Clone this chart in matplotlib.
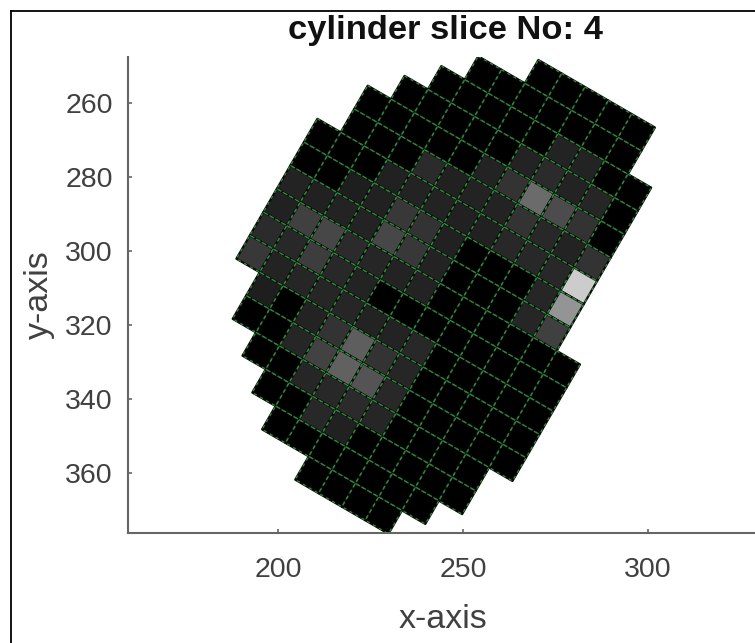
import numpy as np
import matplotlib
matplotlib.use('Agg')
import matplotlib.pyplot as plt
from matplotlib.collections import PolyCollection
from matplotlib.lines import Line2D

plt.rcParams['font.family'] = ['Liberation Sans', 'DejaVu Sans']

# first column index of each row of the slice, and the grey level of its cells
row_start = [0, -2, -3, -4, -5, -5, -6, -6, -6, -6, -6, -6, -5, -5, -4, -3, -2, 0]
row_grey = [
    [0, 0, 0, 0, 0],
    [0, 0, 0, 0, 0, 0, 0],
    [0, 0, 0, 0, 0, .14, .14, 0, 0],
    [0, 0, 0, 0, 0, .14, .17, .14, .15, 0],
    [0, 0, 0, 0, 0, .14, .20, .42, .30, .20, 0],
    [0, 0, 0, .17, .13, .14, .14, .20, .16, .14, .20],
    [0, 0, 0, .13, .14, .14, .13, .13, .16, .16, .16, .80],
    [0, 0, .12, .13, .22, .20, .13, 0, 0, 0, .15, .58],
    [.14, .13, .14, .14, .28, .22, .14, 0, 0, 0, .15, .25],
    [.13, .25, .28, .17, .15, .14, .14, 0, 0, 0, 0, 0, 0],
    [.17, .16, .24, .16, .14, 0, 0, 0, 0, 0, 0, 0, 0],
    [.22, .14, .15, .15, .15, .14, .14, .16, 0, 0, 0, 0, 0],
    [.12, 0, .14, .20, .37, .20, .15, 0, 0, 0, 0, 0],
    [0, 0, .15, .26, .38, .33, .16, 0, 0, 0, 0, 0],
    [0, 0, .15, .16, .17, .15, 0, 0, 0, 0],
    [0, 0, .16, .13, 0, 0, 0, 0, 0],
    [0, 0, 0, 0, 0, 0, 0],
    [0, 0, 0, 0],
]
x_ticks = [200, 250, 300]
y_ticks = [260, 280, 300, 320, 340, 360]

# grid corner and the two cell edge vectors, in axis units
origin = np.array([270.35, 248.4])
step_u = np.array([6.30, 3.65])
step_v = np.array([-3.65, 6.30])

polys = []
greys = []
for j, (start, vals) in enumerate(zip(row_start, row_grey)):
    for k, g in enumerate(vals):
        i = start + k
        p = origin + i * step_u + j * step_v
        polys.append([p, p + step_u, p + step_u + step_v, p + step_v])
        greys.append(g)

fig = plt.figure(figsize=(7.55, 6.43), dpi=100)
ax = fig.add_axes([128 / 755, 110 / 643, 627 / 755, 476 / 643])

# dark seam under each cell, then the sparse green dashes on top
cells = PolyCollection(polys, array=np.array(greys), cmap='gray', edgecolors='#0c0c0c',
                       linewidths=1.6, antialiaseds=True)
cells.set_clim(0, 1)
ax.add_collection(cells)
edges = PolyCollection(polys, facecolors='none', edgecolors='#2e8a3a',
                       linewidths=0.9, linestyles=(0, (2.5, 3)))
ax.add_collection(edges)

ax.set_xlim(159.46, 328.9)
ax.set_ylim(376.2, 247.6)
ax.set_xticks(x_ticks)
ax.set_yticks(y_ticks)
ax.tick_params(direction='in', length=3, width=1.2, color='#666666', labelcolor='#404040',
               labelsize=20.5)
ax.tick_params(axis='x', pad=17)
ax.tick_params(axis='y', pad=11)
ax.spines['top'].set_visible(False)
ax.spines['right'].set_visible(False)
ax.spines['left'].set_color('#666666')
ax.spines['bottom'].set_color('#666666')
ax.spines['left'].set_linewidth(1.5)
ax.spines['bottom'].set_linewidth(1.5)
ax.set_xlabel('x-axis', fontsize=24.5, color='#404040')
ax.set_ylabel('y-axis', fontsize=24.5, color='#404040')
ax.xaxis.set_label_coords(0.502, -0.15)
ax.yaxis.set_label_coords(-0.116, 0.5)
fig.text(445 / 755, 1 - 31 / 643, 'cylinder slice No: 4', fontsize=24.8, fontweight='bold',
         color='#111111', ha='center', va='center')

# screenshot frame, only left and top survive the crop
fig.add_artist(Line2D([10.5 / 755, 10.5 / 755], [0, 1 - 11 / 643], color='black', lw=1.3))
fig.add_artist(Line2D([10.5 / 755, 1], [1 - 11 / 643, 1 - 11 / 643], color='black', lw=1.3))

fig.savefig('out.png', dpi=100)
